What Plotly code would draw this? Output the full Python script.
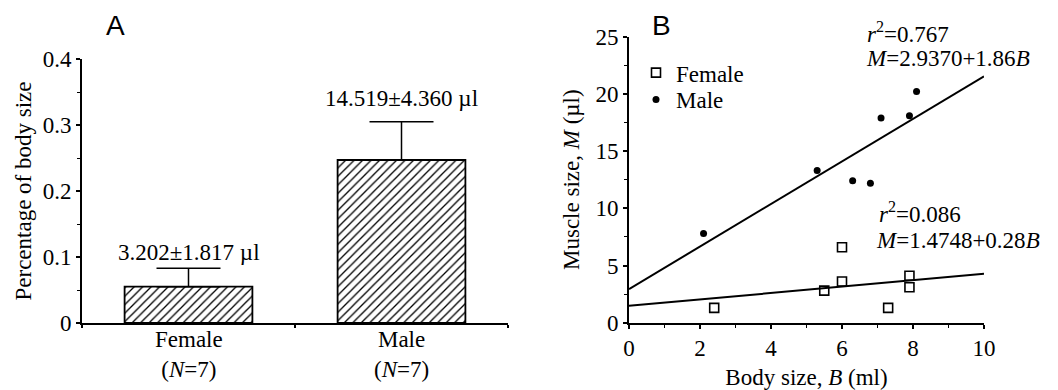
import plotly.graph_objects as go

# ---------------- data ----------------
categories = ["Female<br>(<i>N</i>=7)", "Male<br>(<i>N</i>=7)"]
pct_mean = [0.055, 0.247]
pct_err = [0.028, 0.058]
bar_labels = ["3.202±1.817 µl", "14.519±4.360 µl"]

female_B = [2.4, 5.5, 6.0, 6.0, 7.3, 7.9, 7.9]
female_M = [1.3, 2.8, 3.6, 6.6, 1.3, 4.1, 3.1]
male_B = [2.1, 5.3, 6.3, 6.8, 7.1, 7.9, 8.1]
male_M = [7.8, 13.3, 12.4, 12.2, 17.9, 18.1, 20.2]

fit_range = [0, 10]
female_fit = {"a": 1.4748, "b": 0.28, "r2": "0.086"}
male_fit = {"a": 2.9370, "b": 1.86, "r2": "0.767"}

# ---------------- figure ----------------
W, H = 1058, 390
FONT = "Liberation Serif"
FS = 23

def px(x):
    return x / W

def py(y):
    return 1 - y / H

def f(size=FS, family=FONT):
    return dict(family=family, size=size, color="black")

fig = go.Figure()

# Panel A bars
fig.add_trace(go.Bar(
    x=[0, 1], y=pct_mean, width=0.6,
    marker=dict(color="white", line=dict(color="black", width=1.8),
                pattern=dict(shape="/", fgcolor="black", bgcolor="white", size=6, solidity=0.22)),
    error_y=dict(type="data", array=pct_err, arrayminus=[0] * len(pct_err), symmetric=False,
                 color="black", thickness=1.5, width=32),
    xaxis="x", yaxis="y", showlegend=False, hoverinfo="skip"))

# Panel B scatter
fig.add_trace(go.Scatter(x=female_B, y=female_M, mode="markers", name="Female", legend="legend",
                         marker=dict(symbol="square-open", size=9, color="black", line=dict(width=1.6)),
                         xaxis="x2", yaxis="y2"))
fig.add_trace(go.Scatter(x=male_B, y=male_M, mode="markers", name="Male", legend="legend2",
                         marker=dict(symbol="circle", size=7, color="black"),
                         xaxis="x2", yaxis="y2"))

for fit in (female_fit, male_fit):
    fig.add_trace(go.Scatter(x=fit_range, y=[fit["a"] + fit["b"] * b for b in fit_range],
                             mode="lines", line=dict(color="black", width=2),
                             xaxis="x2", yaxis="y2", showlegend=False, hoverinfo="skip"))

ann = []
label_shift = [1, 9]
for i, (m, e, t) in enumerate(zip(pct_mean, pct_err, bar_labels)):
    ann.append(dict(x=i, y=m + e, xref="x", yref="y", text=t, showarrow=False,
                    xanchor="center", yanchor="bottom", yshift=label_shift[i], font=f()))

# category labels under bars
for i, c in enumerate(categories):
    ann.append(dict(x=i, y=0, xref="x", yref="y", text=c, showarrow=False,
                    xanchor="center", yanchor="middle", yshift=-31, font=f()))

# regression text
ann.append(dict(x=6.66, y=23.9, xref="x2", yref="y2", xanchor="left", yanchor="bottom",
                text=f"<i>r</i><sup>2</sup>={male_fit['r2']}", showarrow=False, font=f()))
ann.append(dict(x=6.62, y=21.8, xref="x2", yref="y2", xanchor="left", yanchor="bottom",
                text=f"<i>M</i>={male_fit['a']:.4f}+{male_fit['b']:.2f}<i>B</i>", showarrow=False,
                font=f()))
ann.append(dict(x=6.99, y=8.15, xref="x2", yref="y2", xanchor="left", yanchor="bottom",
                text=f"<i>r</i><sup>2</sup>={female_fit['r2']}", showarrow=False, font=f()))
ann.append(dict(x=6.9, y=5.95, xref="x2", yref="y2", xanchor="left", yanchor="bottom",
                text=f"<i>M</i>={female_fit['a']:.4f}+{female_fit['b']:.2f}<i>B</i>", showarrow=False,
                font=f()))

# panel letters
ann.append(dict(x=px(115), y=py(26), xref="paper", yref="paper", text="A", showarrow=False,
                xanchor="center", yanchor="middle", font=f(28, "Liberation Sans")))
ann.append(dict(x=px(661), y=py(26), xref="paper", yref="paper", text="B", showarrow=False,
                xanchor="center", yanchor="middle", font=f(28, "Liberation Sans")))

axis_common = dict(showline=True, linecolor="black", linewidth=1.6, showgrid=False, zeroline=False,
                   ticks="outside", ticklen=4, tickwidth=1.5, tickcolor="black",
                   tickfont=f(), automargin=False)

legend_common = dict(xanchor="left", yanchor="middle", bgcolor="rgba(0,0,0,0)",
                     font=f(), itemwidth=30, borderwidth=0)

fig.update_layout(
    template="none",
    width=W, height=H, margin=dict(l=0, r=0, t=0, b=0, autoexpand=False),
    paper_bgcolor="white", plot_bgcolor="white",
    font=f(),
    xaxis=dict(domain=[px(82), px(508)], range=[-0.5, 1.5], tickvals=[0, 1], showticklabels=False,
               showline=True, linecolor="black", linewidth=1.6, showgrid=False, zeroline=False,
               ticks="", anchor="y", automargin=False,
               minor=dict(ticks="outside", tick0=0.5, dtick=1, ticklen=3, tickcolor="black", tickwidth=1.5)),
    yaxis=dict(domain=[py(323), py(59)], range=[0, 0.4], dtick=0.1, anchor="x",
               title=dict(text="Percentage of body size", font=f(), standoff=5),
               minor=dict(ticks="outside", dtick=0.05, ticklen=3, tickcolor="black", tickwidth=1.2),
               **axis_common),
    xaxis2=dict(domain=[px(629), px(984)], range=[0, 10], dtick=2, anchor="y2",
                title=dict(text="Body size, <i>B</i> (ml)", font=f(), standoff=15),
                minor=dict(ticks="outside", dtick=1, ticklen=3, tickcolor="black", tickwidth=1.2),
                **axis_common),
    yaxis2=dict(domain=[py(322.7), py(36.7)], range=[0, 25], dtick=5, anchor="x2",
                title=dict(text="Muscle size, <i>M</i> (µl)", font=f(), standoff=10),
                minor=dict(ticks="outside", dtick=2.5, ticklen=3, tickcolor="black", tickwidth=1.2),
                **axis_common),
    legend=dict(x=px(636), y=py(72.7), **legend_common),
    legend2=dict(x=px(636), y=py(99.5), **legend_common),
    annotations=ann,
    bargap=0.4,
)

fig.write_html("out.html", config={"displayModeBar": False},
               post_script="document.body.style.margin='0';document.body.style.overflow='hidden';")
